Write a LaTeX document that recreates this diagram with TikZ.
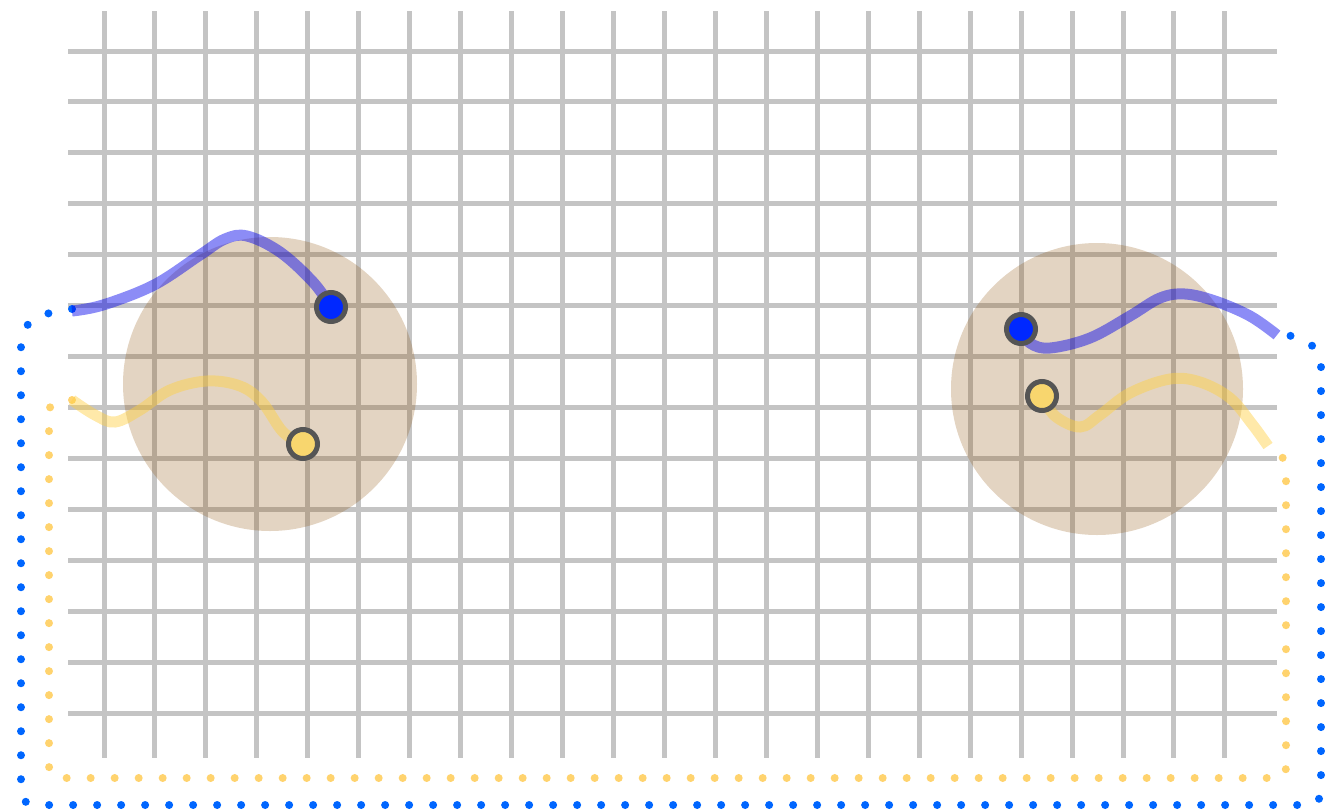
\documentclass[tikz,border=0pt]{standalone}
\definecolor{gridgray}{RGB}{196,196,196}
\definecolor{tan}{RGB}{138,76,0}
\definecolor{curveblue}{RGB}{0,0,235}
\definecolor{curvegold}{RGB}{255,207,64}
\definecolor{dotblue}{RGB}{0,102,255}
\definecolor{dotgold}{RGB}{255,211,110}
\definecolor{fillblue}{RGB}{0,40,255}
\definecolor{fillgold}{RGB}{248,214,110}
\definecolor{ring}{RGB}{85,85,85}
\tikzset{
  gridline/.style={gridgray, line width=5pt},
  zone/.style={fill=tan, fill opacity=0.24},
  bluecurve/.style={curveblue, opacity=0.45, line width=11pt},
  goldcurve/.style={curvegold, opacity=0.45, line width=11pt},
  bluedots/.style={dotblue, line width=8pt, line cap=round, dash pattern=on 0pt off 24pt},
  golddots/.style={dotgold, line width=8pt, line cap=round, dash pattern=on 0pt off 24pt},
  blueball/.style={circle, inner sep=0pt, minimum size=29pt, fill=fillblue, draw=ring, line width=5pt},
  goldball/.style={circle, inner sep=0pt, minimum size=29pt, fill=fillgold, draw=ring, line width=5pt}
}
\begin{document}
\begin{tikzpicture}[x=1pt,y=-1pt]
\useasboundingbox (0,0) rectangle (1331,809);
% grid
\foreach \i in {0,...,22} {
  \draw[gridline] ({104+50.95*\i},11) -- ({104+50.95*\i},758);
}
\foreach \j in {0,...,13} {
  \draw[gridline] (68,{51+50.95*\j}) -- (1277,{51+50.95*\j});
}
% zones
\fill[zone] (270,384) circle (147);
\fill[zone] (1097,389) circle (146);
% anchor points
\coordinate (LB) at (331,307);
\coordinate (LY) at (303,444);
\coordinate (RB) at (1021,329);
\coordinate (RY) at (1042,396);
\coordinate (LBend) at (72,311);
\coordinate (LYend) at (72,400);
\coordinate (RBend) at (1277,335);
\coordinate (RYend) at (1268,446);
% dotted loops
\draw[bluedots] (72,309) .. controls (40,313) and (21,320) .. (21,345)
  -- (21,790) .. controls (21,800) and (26,805) .. (38,805)
  -- (1305,805) .. controls (1316,805) and (1321,800) .. (1321,790)
  -- (1321,365) .. controls (1321,348) and (1305,337) .. (1285,335);
\draw[golddots] (72,400) .. controls (58,401) and (49,404) .. (49,410)
  -- (49,765) .. controls (49,773) and (52,778) .. (60,778)
  -- (1276,778) .. controls (1283,778) and (1286,774) .. (1286,766)
  -- (1286,470) .. controls (1286,460) and (1280,452) .. (1273,449);
% curves
\draw[bluecurve] plot[smooth, tension=0.6] coordinates {(LBend) (103,305) (154,285) (200,255) (225,239) (247,236) (280,252) (313,282) (LB)};
\draw[goldcurve] plot[smooth, tension=0.6] coordinates {(LYend) (95,415) (115,422) (140,410) (170,390) (207,381) (240,386) (262,402) (283,432) (LY)};
\draw[bluecurve] plot[smooth, tension=0.6] coordinates {(RB) (1030,343) (1050,348) (1090,338) (1130,316) (1160,298) (1185,294) (1215,301) (1250,316) (RBend)};
\draw[goldcurve] plot[smooth, tension=0.6] coordinates {(RY) (1055,416) (1080,427) (1100,415) (1130,393) (1170,379) (1200,382) (1230,398) (1252,424) (RYend)};
% balls
\node[blueball] (lb) at (LB) {};
\node[goldball] (ly) at (LY) {};
\node[blueball] (rb) at (RB) {};
\node[goldball] (ry) at (RY) {};
\end{tikzpicture}
\end{document}
